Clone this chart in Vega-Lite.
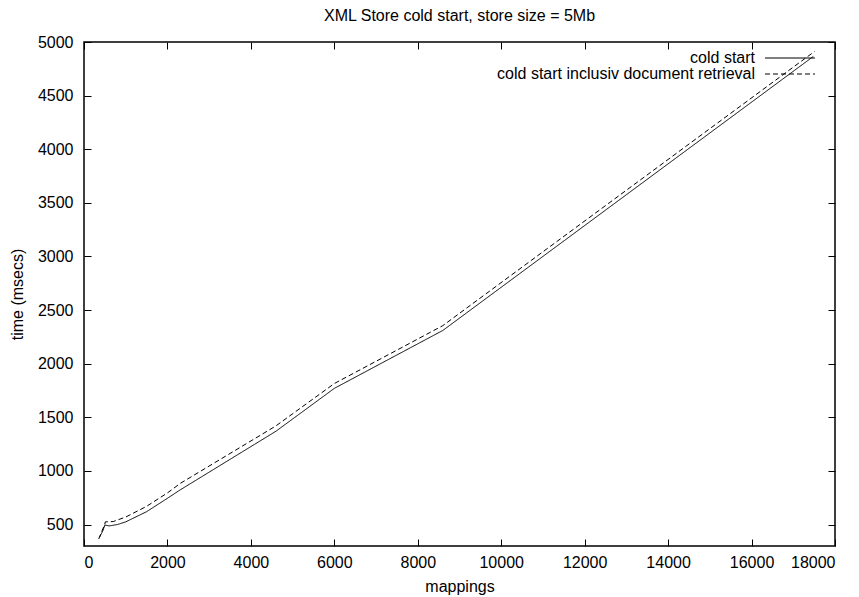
{
  "$schema": "https://vega.github.io/schema/vega-lite/v6.json",
  "width": 751,
  "height": 504,
  "autosize": {"type": "none"},
  "padding": {"left": 84, "top": 42, "right": 24, "bottom": 51},
  "background": "white",
  "title": {"text": "XML Store cold start, store size = 5Mb", "fontSize": 16, "fontWeight": "normal", "font": "Liberation Sans", "color": "black", "offset": 10, "anchor": "middle"},
  "config": {
    "view": {"stroke": "black", "strokeWidth": 1.5},
    "font": "Liberation Sans",
    "axis": {"labelFont": "Liberation Sans", "titleFont": "Liberation Sans", "labelFontSize": 16, "titleFontSize": 16, "titleFontWeight": "normal", "labelColor": "black", "titleColor": "black", "domain": false, "grid": false, "tickColor": "black", "tickWidth": 1, "format": "d"}
  },
  "data": {"values": [
    {"mappings": 376, "time": 384, "series": "cold start"},
    {"mappings": 450, "time": 440, "series": "cold start"},
    {"mappings": 500, "time": 496, "series": "cold start"},
    {"mappings": 600, "time": 487, "series": "cold start"},
    {"mappings": 800, "time": 500, "series": "cold start"},
    {"mappings": 1000, "time": 525, "series": "cold start"},
    {"mappings": 1500, "time": 620, "series": "cold start"},
    {"mappings": 2000, "time": 745, "series": "cold start"},
    {"mappings": 2300, "time": 822, "series": "cold start"},
    {"mappings": 4600, "time": 1370, "series": "cold start"},
    {"mappings": 6000, "time": 1770, "series": "cold start"},
    {"mappings": 8600, "time": 2310, "series": "cold start"},
    {"mappings": 17480, "time": 4865, "series": "cold start"},
    {"mappings": 352, "time": 365, "series": "cold start inclusiv document retrieval"},
    {"mappings": 420, "time": 430, "series": "cold start inclusiv document retrieval"},
    {"mappings": 496, "time": 500, "series": "cold start inclusiv document retrieval"},
    {"mappings": 510, "time": 525, "series": "cold start inclusiv document retrieval"},
    {"mappings": 700, "time": 528, "series": "cold start inclusiv document retrieval"},
    {"mappings": 1000, "time": 570, "series": "cold start inclusiv document retrieval"},
    {"mappings": 1500, "time": 670, "series": "cold start inclusiv document retrieval"},
    {"mappings": 2000, "time": 795, "series": "cold start inclusiv document retrieval"},
    {"mappings": 2300, "time": 882, "series": "cold start inclusiv document retrieval"},
    {"mappings": 4600, "time": 1420, "series": "cold start inclusiv document retrieval"},
    {"mappings": 6000, "time": 1815, "series": "cold start inclusiv document retrieval"},
    {"mappings": 8600, "time": 2355, "series": "cold start inclusiv document retrieval"},
    {"mappings": 17510, "time": 4912, "series": "cold start inclusiv document retrieval"}
  ]},
  "layer": [
    {
      "mark": {"type": "line", "color": "black", "strokeWidth": 1, "clip": true},
      "encoding": {
        "x": {"field": "mappings", "type": "quantitative", "scale": {"domain": [0, 18000], "nice": false}, "axis": {"values": [0, 2000, 4000, 6000, 8000, 10000, 12000, 14000, 16000, 18000], "title": "mappings", "tickSize": -7, "labelPadding": 15, "titlePadding": 8}},
        "y": {"field": "time", "type": "quantitative", "scale": {"domain": [300, 5000], "nice": false, "zero": false}, "axis": {"values": [500, 1000, 1500, 2000, 2500, 3000, 3500, 4000, 4500, 5000], "title": "time (msecs)", "tickSize": -7, "labelPadding": 18, "titlePadding": 12}},
        "strokeDash": {"field": "series", "type": "nominal", "scale": {"domain": ["cold start", "cold start inclusiv document retrieval"], "range": [[1, 0], [5, 3]]},
          "legend": {"title": null, "orient": "none", "legendX": 698, "legendY": 8, "symbolType": "M-5,0L5,0", "symbolSize": 100, "symbolStrokeColor": "black", "symbolStrokeWidth": 1, "labelAlign": "right", "labelOffset": -43, "labelFontSize": 16, "labelFont": "Liberation Sans", "labelColor": "black", "rowPadding": 0, "padding": 0, "labelLimit": 400}}
      }
    },
    {
      "mark": {"type": "line", "opacity": 0},
      "encoding": {
        "x": {"field": "mappings", "type": "quantitative", "scale": {"domain": [0, 18000], "nice": false}, "axis": {"orient": "top", "values": [0, 2000, 4000, 6000, 8000, 10000, 12000, 14000, 16000, 18000], "labels": false, "title": null, "tickSize": -7}},
        "y": {"field": "time", "type": "quantitative", "scale": {"domain": [300, 5000], "nice": false, "zero": false}, "axis": {"orient": "right", "values": [500, 1000, 1500, 2000, 2500, 3000, 3500, 4000, 4500, 5000], "labels": false, "title": null, "tickSize": -7}}
      }
    }
  ],
  "resolve": {"axis": {"x": "independent", "y": "independent"}}
}
